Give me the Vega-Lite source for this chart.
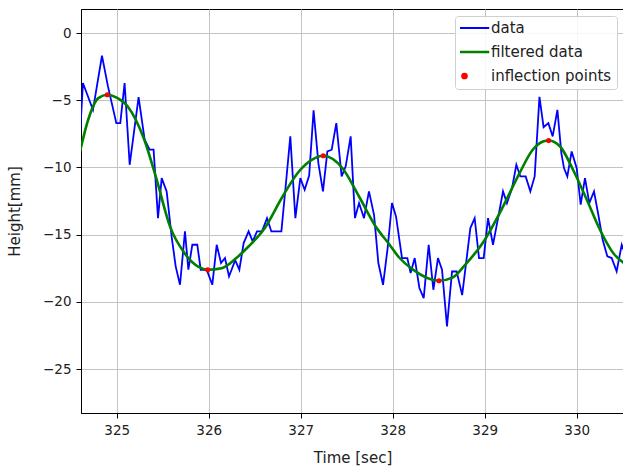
{
  "$schema": "https://vega.github.io/schema/vega-lite/v6.json",
  "width": 543,
  "height": 404,
  "autosize": {"type": "none"},
  "padding": {"left": 81, "top": 9, "right": 0, "bottom": 63},
  "background": "white",
  "config": {
    "view": {"stroke": "black", "strokeWidth": 1},
    "font": "DejaVu Sans",
    "axis": {
      "grid": true,
      "gridColor": "#c4c4c4",
      "gridWidth": 1,
      "domainColor": "black",
      "domainWidth": 1,
      "tickColor": "black",
      "tickSize": 5,
      "labelFont": "DejaVu Sans",
      "labelFontSize": 13.5,
      "labelColor": "#222222",
      "labelPadding": 5,
      "titleFont": "DejaVu Sans",
      "titleFontSize": 15,
      "titleFontWeight": "normal",
      "titleColor": "#222222"
    }
  },
  "datasets": {
    "raw": [
      {"t": 324.59, "h": -9.0},
      {"t": 324.633, "h": -3.72},
      {"t": 324.742, "h": -5.71},
      {"t": 324.84, "h": -1.69},
      {"t": 324.905, "h": -3.97},
      {"t": 324.996, "h": -6.7},
      {"t": 325.039, "h": -6.7},
      {"t": 325.086, "h": -3.72},
      {"t": 325.141, "h": -9.8},
      {"t": 325.238, "h": -4.77},
      {"t": 325.304, "h": -7.94},
      {"t": 325.358, "h": -8.68},
      {"t": 325.401, "h": -8.68},
      {"t": 325.449, "h": -13.77},
      {"t": 325.489, "h": -10.79},
      {"t": 325.543, "h": -11.78},
      {"t": 325.597, "h": -15.13},
      {"t": 325.641, "h": -17.36},
      {"t": 325.688, "h": -18.73},
      {"t": 325.742, "h": -14.76},
      {"t": 325.779, "h": -17.61},
      {"t": 325.822, "h": -15.75},
      {"t": 325.876, "h": -15.75},
      {"t": 325.913, "h": -17.61},
      {"t": 325.978, "h": -17.61},
      {"t": 326.039, "h": -18.73},
      {"t": 326.087, "h": -15.75},
      {"t": 326.134, "h": -17.11},
      {"t": 326.177, "h": -16.74},
      {"t": 326.221, "h": -18.11},
      {"t": 326.288, "h": -16.9},
      {"t": 326.333, "h": -17.61},
      {"t": 326.38, "h": -15.63},
      {"t": 326.434, "h": -14.76},
      {"t": 326.478, "h": -15.5},
      {"t": 326.525, "h": -14.76},
      {"t": 326.579, "h": -14.76},
      {"t": 326.634, "h": -13.77},
      {"t": 326.681, "h": -14.76},
      {"t": 326.79, "h": -14.76},
      {"t": 326.833, "h": -11.66},
      {"t": 326.887, "h": -7.69},
      {"t": 326.942, "h": -13.77},
      {"t": 326.996, "h": -10.79},
      {"t": 327.043, "h": -11.66},
      {"t": 327.092, "h": -10.6},
      {"t": 327.14, "h": -5.75},
      {"t": 327.192, "h": -9.68},
      {"t": 327.242, "h": -11.78},
      {"t": 327.29, "h": -8.81},
      {"t": 327.337, "h": -8.68},
      {"t": 327.387, "h": -6.7},
      {"t": 327.445, "h": -10.67},
      {"t": 327.489, "h": -9.92},
      {"t": 327.543, "h": -7.69},
      {"t": 327.59, "h": -13.77},
      {"t": 327.634, "h": -12.65},
      {"t": 327.688, "h": -13.77},
      {"t": 327.742, "h": -11.78},
      {"t": 327.797, "h": -13.52},
      {"t": 327.844, "h": -17.11},
      {"t": 327.895, "h": -18.73},
      {"t": 327.945, "h": -16.0},
      {"t": 327.992, "h": -12.65},
      {"t": 328.036, "h": -13.64},
      {"t": 328.101, "h": -16.74},
      {"t": 328.159, "h": -16.74},
      {"t": 328.195, "h": -17.86},
      {"t": 328.239, "h": -16.74},
      {"t": 328.29, "h": -18.97},
      {"t": 328.337, "h": -19.72},
      {"t": 328.391, "h": -15.75},
      {"t": 328.442, "h": -19.1},
      {"t": 328.492, "h": -16.74},
      {"t": 328.536, "h": -17.61},
      {"t": 328.59, "h": -21.83},
      {"t": 328.645, "h": -17.74},
      {"t": 328.695, "h": -17.74},
      {"t": 328.755, "h": -19.5},
      {"t": 328.844, "h": -14.51},
      {"t": 328.891, "h": -13.77},
      {"t": 328.938, "h": -16.74},
      {"t": 328.989, "h": -16.74},
      {"t": 329.036, "h": -13.77},
      {"t": 329.09, "h": -15.75},
      {"t": 329.145, "h": -13.77},
      {"t": 329.199, "h": -11.78},
      {"t": 329.242, "h": -12.65},
      {"t": 329.297, "h": -11.54},
      {"t": 329.344, "h": -9.8},
      {"t": 329.387, "h": -10.67},
      {"t": 329.445, "h": -10.67},
      {"t": 329.496, "h": -11.78},
      {"t": 329.543, "h": -10.67},
      {"t": 329.595, "h": -4.75},
      {"t": 329.64, "h": -7.0},
      {"t": 329.692, "h": -6.7},
      {"t": 329.739, "h": -7.69},
      {"t": 329.79, "h": -5.71},
      {"t": 329.833, "h": -8.93},
      {"t": 329.862, "h": -10.05},
      {"t": 329.898, "h": -10.67},
      {"t": 329.945, "h": -8.81},
      {"t": 330.0, "h": -10.05},
      {"t": 330.043, "h": -12.77},
      {"t": 330.09, "h": -10.79},
      {"t": 330.137, "h": -12.65},
      {"t": 330.188, "h": -11.78},
      {"t": 330.235, "h": -13.52},
      {"t": 330.282, "h": -15.38},
      {"t": 330.333, "h": -16.62},
      {"t": 330.38, "h": -16.74},
      {"t": 330.434, "h": -17.73},
      {"t": 330.489, "h": -15.75},
      {"t": 330.53, "h": -16.5}
    ],
    "filtered": [
      {"t": 324.6, "h": -8.85},
      {"t": 324.69, "h": -6.45},
      {"t": 324.8, "h": -4.84},
      {"t": 324.898, "h": -4.59},
      {"t": 325.0, "h": -4.8},
      {"t": 325.12, "h": -5.46},
      {"t": 325.3, "h": -7.94},
      {"t": 325.43, "h": -10.8},
      {"t": 325.58, "h": -14.4},
      {"t": 325.74, "h": -16.4},
      {"t": 325.89, "h": -17.4},
      {"t": 325.989, "h": -17.61},
      {"t": 326.14, "h": -17.5},
      {"t": 326.29, "h": -16.8},
      {"t": 326.43, "h": -15.9},
      {"t": 326.61, "h": -14.5},
      {"t": 326.8, "h": -12.2},
      {"t": 326.98, "h": -10.3},
      {"t": 327.12, "h": -9.43},
      {"t": 327.246, "h": -9.13},
      {"t": 327.452, "h": -10.04},
      {"t": 327.634, "h": -12.16},
      {"t": 327.815, "h": -14.39},
      {"t": 327.96, "h": -15.7},
      {"t": 328.07, "h": -16.7},
      {"t": 328.22, "h": -17.6},
      {"t": 328.503, "h": -18.43},
      {"t": 328.65, "h": -18.2},
      {"t": 328.78, "h": -17.3},
      {"t": 328.98, "h": -15.6},
      {"t": 329.2, "h": -12.9},
      {"t": 329.38, "h": -10.4},
      {"t": 329.52, "h": -8.7},
      {"t": 329.634, "h": -8.07},
      {"t": 329.695, "h": -7.99},
      {"t": 329.82, "h": -8.44},
      {"t": 329.96, "h": -10.17},
      {"t": 330.11, "h": -12.4},
      {"t": 330.25, "h": -14.6},
      {"t": 330.4, "h": -16.4},
      {"t": 330.53, "h": -17.2}
    ],
    "extrema": [
      {"t": 324.898, "h": -4.59},
      {"t": 325.989, "h": -17.61},
      {"t": 327.246, "h": -9.13},
      {"t": 328.503, "h": -18.43},
      {"t": 329.695, "h": -7.99}
    ]
  },
  "encoding": {
    "x": {
      "field": "t",
      "type": "quantitative",
      "scale": {"domain": [324.612, 330.514], "nice": false, "zero": false},
      "axis": {"title": "Time [sec]", "values": [325, 326, 327, 328, 329, 330], "format": "d", "titlePadding": 14}
    },
    "y": {
      "field": "h",
      "type": "quantitative",
      "scale": {"domain": [-28.27, 1.79], "nice": false, "zero": false},
      "axis": {"title": "Height[mm]", "values": [-25, -20, -15, -10, -5, 0], "format": "d", "titlePadding": 20}
    }
  },
  "layer": [
    {
      "data": {"name": "raw"},
      "mark": {"type": "line", "strokeWidth": 1.8, "clip": true},
      "encoding": {
        "color": {
          "datum": "data",
          "type": "nominal",
          "scale": {
            "domain": ["data", "filtered data", "inflection points"],
            "range": ["#0000ff", "#008000", "#ff0000"]
          },
          "legend": {
            "title": null,
            "orient": "top-right",
            "offset": 7,
            "symbolType": "stroke",
            "symbolSize": 1089,
            "symbolStrokeWidth": 2,
            "symbolOffset": -3,
            "clipHeight": 14,
            "labelFont": "DejaVu Sans",
            "labelFontSize": 15,
            "labelColor": "#222222",
            "labelOffset": 19,
            "rowPadding": 9,
            "padding": 5,
            "fillColor": "rgba(255,255,255,0.85)",
            "strokeColor": "#d0d0d0",
            "cornerRadius": 3,
            "encode": {
              "symbols": {
                "update": {
                  "shape": {"signal": "datum.value === 'inflection points' ? 'circle' : 'stroke'"},
                  "size": {"signal": "datum.value === 'inflection points' ? 24 : 2450"},
                  "fill": {"signal": "datum.value === 'inflection points' ? '#ff0000' : 'transparent'"},
                  "stroke": {"signal": "datum.value === 'data' ? '#0000ff' : (datum.value === 'filtered data' ? '#008000' : 'transparent')"},
                  "strokeWidth": {"signal": "datum.value === 'filtered data' ? 2.6 : 1.8"},
                  "opacity": {"value": 1}
                }
              }
            }
          }
        }
      }
    },
    {
      "data": {"name": "filtered"},
      "mark": {"type": "line", "strokeWidth": 2.6, "interpolate": "monotone", "clip": true},
      "encoding": {
        "color": {"datum": "filtered data", "type": "nominal"}
      }
    },
    {
      "data": {"name": "extrema"},
      "mark": {"type": "point", "filled": true, "size": 26, "opacity": 1, "clip": true},
      "encoding": {
        "color": {"datum": "inflection points", "type": "nominal"}
      }
    }
  ]
}
